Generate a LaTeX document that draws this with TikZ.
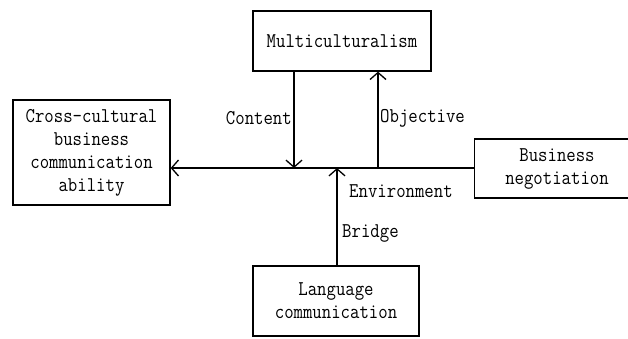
\documentclass[tikz,border=0pt]{standalone}
\usepackage{fontspec}
\newfontfamily\diagmono[FakeStretch=0.87]{Latin Modern Mono}
\usetikzlibrary{arrows.meta}
\begin{document}
\begin{tikzpicture}[x=1pt,y=-1pt,
  box/.style={draw,line width=1.3pt,inner sep=0pt,align=center,font=\fontsize{21}{23}\diagmono},
  lbl/.style={inner sep=0pt,font=\fontsize{21}{23}\diagmono},
  conn/.style={line width=1.3pt},
  arr/.style={conn,-{Straight Barb[length=7pt,width=16pt,line width=1.3pt]}}]
\useasboundingbox (0,0) rectangle (628,338);
\node[box,minimum width=178pt,minimum height=60pt] (mc) at (342,41) {Multiculturalism};
\node[box,minimum width=157pt,minimum height=105pt] (cc) at (91.5,152.5) {Cross-cultural\\business\\communication\\ability};
\node[box,minimum width=166pt,minimum height=59pt,anchor=west] (bn) at (474,168.5) {\hspace*{0pt}};
\node[lbl,align=center] (bnt) at (557,168.5) {Business\\negotiation};
\node[box,minimum width=166pt,minimum height=70pt] (lc) at (336,301) {Language\\communication};
\coordinate (jc) at (294,168);
\coordinate (jo) at (378,168);
\coordinate (jb) at (337,168);
\coordinate (bnw) at (bn.west |- 0,168);
\coordinate (ccw) at (cc.east |- 0,168);
\draw[arr] (bnw) -- (ccw);
\draw[arr] (mc.south -| jc) -- (jc);
\draw[arr] (jo) -- (mc.south -| jo);
\draw[arr] (lc.north -| jb) -- (jb);
\node[lbl,anchor=east] (lcont) at (292,118) {Content};
\node[lbl,anchor=west] (lobj) at (380,118) {Objective};
\node[lbl,anchor=west] (lenv) at (349,191) {Environment};
\node[lbl,anchor=west] (lbr) at (342,233) {Bridge};
\end{tikzpicture}
\end{document}
